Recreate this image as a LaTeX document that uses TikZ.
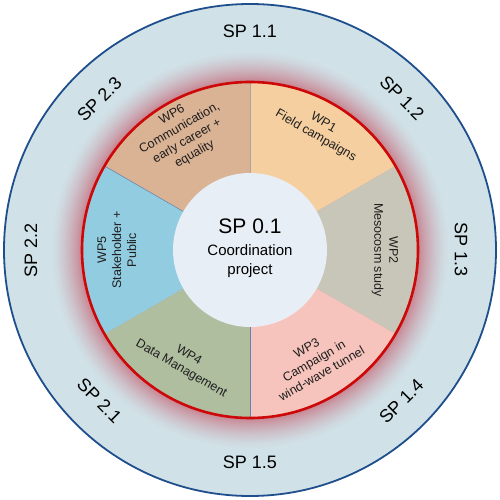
\documentclass[tikz,border=0pt]{standalone}
\usepackage{fontspec}
\setmainfont{Liberation Sans}
\definecolor{ringbg}{RGB}{208,226,232}
\definecolor{ringedge}{RGB}{31,78,140}
\definecolor{glowc}{RGB}{196,96,112}
\definecolor{redline}{RGB}{204,8,8}
\definecolor{wpa}{RGB}{245,207,160}
\definecolor{wpb}{RGB}{200,198,184}
\definecolor{wpc}{RGB}{246,196,188}
\definecolor{wpd}{RGB}{176,190,160}
\definecolor{wpe}{RGB}{146,204,224}
\definecolor{wpf}{RGB}{218,178,148}
\definecolor{core}{RGB}{232,238,246}
\definecolor{txt}{RGB}{30,30,30}
\tikzset{
  wplabel/.style={align=center, text=txt, font=\fontsize{12.5}{15}\selectfont, inner sep=0pt},
  splabel/.style={text=black, font=\fontsize{18}{20}\selectfont, inner sep=0pt},
  seam/.style={line width=0.5pt}
}
\begin{document}
\begin{tikzpicture}[x=1pt,y=1pt]
\useasboundingbox (-250,-250) rectangle (250,250);
% outer ring
\fill[ringbg] (0,0) circle (246);
% glow (opaque discs, outermost first)
\foreach \i in {34,33,...,0}{
  \pgfmathtruncatemacro\p{75*(1-\i/34)^1.6}
  \fill[color=glowc!\p!ringbg] (0,0) circle (168+\i);
}
\draw[ringedge, line width=1.8pt] (0,0) circle (246);
% sectors
\fill[wpa] (0,0) -- (90:168) arc (90:30:168) -- cycle;
\fill[wpb] (0,0) -- (30:168) arc (30:-30:168) -- cycle;
\fill[wpc] (0,0) -- (-30:168) arc (-30:-90:168) -- cycle;
\fill[wpd] (0,0) -- (-90:168) arc (-90:-150:168) -- cycle;
\fill[wpe] (0,0) -- (-150:168) arc (-150:-210:168) -- cycle;
\fill[wpf] (0,0) -- (150:168) arc (150:90:168) -- cycle;
\coordinate (o) at (0,0);
\coordinate (s1) at (90:168);
\coordinate (s4) at (-90:168);
\coordinate (s6) at (150:168);
\draw[seam, color=gray!70] (o) -- (s1);
\draw[seam, color=ringedge!70] (o) -- (s4);
\draw[seam, color=ringedge!70] (o) -- (s6);
% core
\fill[core] (0,0) circle (77);
\draw[redline, line width=2.6pt] (0,0) circle (168);
% center text
\node[align=center, text=black, inner sep=0pt, font=\fontsize{15}{19}\selectfont] (center) at (0,2)
  {{\fontsize{21}{25}\selectfont SP 0.1}\\[3pt]Coordination\\project};
% WP labels
\node[wplabel, rotate=-30] (wp1) at (60:139) {WP1\\Field campaigns};
\node[wplabel, rotate=-90] (wp2) at (0:135) {WP2\\Mesocosm study};
\node[wplabel, rotate=30] (wp3) at (-60:128) {WP3\\Campaign in\\wind-wave tunnel};
\node[wplabel, rotate=-30] (wp4) at (-120:130) {WP4\\Data Management};
\node[wplabel, rotate=90] (wp5) at (180:133) {WP5\\Stakeholder +\\Public};
\node[wplabel, rotate=30] (wp6) at (120:133) {WP6\\Communication,\\early career +\\equality};
% SP labels
\node[splabel] (sp11) at (90:219) {SP 1.1};
\node[splabel, rotate=-45] (sp12) at (45:215) {SP 1.2};
\node[splabel, rotate=-90] (sp13) at (0:211) {SP 1.3};
\node[splabel, rotate=45] (sp14) at (-45:214) {SP 1.4};
\node[splabel] (sp15) at (-90:212) {SP 1.5};
\node[splabel, rotate=-45] (sp21) at (-135:213) {SP 2.1};
\node[splabel, rotate=90] (sp22) at (180:219) {SP 2.2};
\node[splabel, rotate=45] (sp23) at (135:213) {SP 2.3};
\end{tikzpicture}
\end{document}
